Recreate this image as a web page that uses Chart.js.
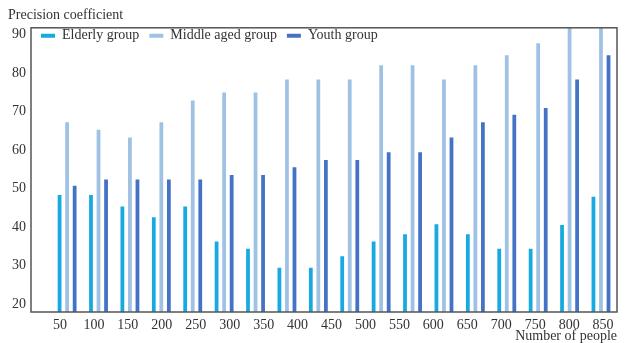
<!DOCTYPE html>
<html>
<head>
<meta charset="utf-8">
<script src="https://cdn.jsdelivr.net/npm/chart.js@4.4.0/dist/chart.umd.min.js"></script>
<style>
  body { margin: 0; background: #fff; }
</style>
</head>
<body>
<canvas id="precisionChart" width="627" height="343"></canvas>
<script>
// axis labels (17) and bar groups (18) don't line up one to one in the original
const tickLabels = ["50", "100", "150", "200", "250", "300", "350", "400", "450",
  "500", "550", "600", "650", "700", "750", "800", "850"];
const yTicks = [20, 30, 40, 50, 60, 70, 80, 90];

const elderly = [48.4, 48.4, 45.4, 42.6, 45.4, 36.3, 34.4, 29.5, 29.5,
  32.5, 36.3, 38.2, 40.8, 38.2, 34.4, 34.4, 40.6, 47.9];
const middleAged = [67.3, 65.3, 63.3, 67.3, 72.9, 75, 75, 78.4, 78.4,
  78.4, 82.1, 82.1, 78.4, 82.1, 84.7, 87.8, 93, 93];
const youth = [50.8, 52.4, 52.4, 52.4, 52.4, 53.6, 53.6, 55.6, 57.5,
  57.5, 59.5, 59.5, 63.3, 67.3, 69.2, 71, 78.4, 84.7];

const toPoints = (values) => values.map((v, i) => ({ x: i, y: v }));

const textColor = "#333";
Chart.defaults.font.family = "'Liberation Serif', 'Times New Roman', serif";
Chart.defaults.font.size = 14;
Chart.defaults.color = textColor;

const frame = {
  id: "frame",
  beforeLayout(chart) {
    // one row of legend items inside the plot box
    chart.legend.isHorizontal = () => true;
  },
  beforeDraw(chart) {
    // legend hugs the top-left corner of the plot box
    const legend = chart.legend;
    legend.left = chart.chartArea.left;
    legend.right = chart.chartArea.right;
    legend.top = chart.chartArea.top - 9;
  },
  afterDraw(chart) {
    const { ctx, chartArea } = chart;
    ctx.save();
    ctx.strokeStyle = "#555";
    ctx.lineWidth = 1.5;
    ctx.strokeRect(
      chartArea.left,
      chartArea.top,
      chartArea.right - chartArea.left,
      chartArea.bottom - chartArea.top
    );
    ctx.restore();
  },
};

const ctx = document.getElementById("precisionChart").getContext("2d");
new Chart(ctx, {
  type: "bar",
  data: {
    datasets: [
      {
        label: "Elderly group",
        data: toPoints(elderly),
        backgroundColor: "#17a9e1",
        borderWidth: 0,
      },
      {
        label: "Middle aged group",
        data: toPoints(middleAged),
        backgroundColor: "#9fc2e4",
        borderWidth: 0,
      },
      {
        label: "Youth group",
        data: toPoints(youth),
        backgroundColor: "#4472c4",
        borderWidth: 0,
      },
    ],
  },
  options: {
    responsive: false,
    animation: false,
    categoryPercentage: 0.72,
    barPercentage: 0.5,
    layout: { padding: { left: 8, right: 10, top: 0, bottom: 0 } },
    plugins: {
      title: {
        display: true,
        text: "Precision coefficient",
        align: "start",
        color: textColor,
        padding: { top: 7, bottom: 4 },
        font: { size: 14, weight: "normal" },
      },
      legend: {
        position: "chartArea",
        align: "start",
        labels: {
          boxWidth: 14,
          boxHeight: 4,
          padding: 10,
          color: textColor,
        },
      },
      tooltip: { enabled: false },
    },
    scales: {
      x: {
        type: "linear",
        offset: false,
        min: -1.15,
        max: 17.51,
        display: false,
      },
      x2: {
        type: "linear",
        position: "bottom",
        offset: false,
        min: -0.854,
        max: 16.41,
        afterBuildTicks: (scale) => {
          scale.ticks = tickLabels.map((_, i) => ({ value: i }));
        },
        afterFit: (scale) => {
          scale.height = 31;
        },
        grid: { display: false, drawTicks: false },
        border: { display: false },
        ticks: {
          padding: 5,
          autoSkip: false,
          maxRotation: 0,
          callback: (value) => tickLabels[value],
        },
        title: {
          display: true,
          text: "Number of people",
          align: "end",
          padding: 0,
          font: { size: 14, lineHeight: 1 },
        },
      },
      y: {
        min: 18,
        max: 91.8,
        afterBuildTicks: (scale) => {
          scale.ticks = yTicks.map((v) => ({ value: v }));
        },
        afterFit: (scale) => {
          scale.width = 23;
        },
        grid: { display: false, drawTicks: false },
        border: { display: false },
        ticks: { padding: 5 },
      },
    },
  },
  plugins: [frame],
});
</script>
</body>
</html>
